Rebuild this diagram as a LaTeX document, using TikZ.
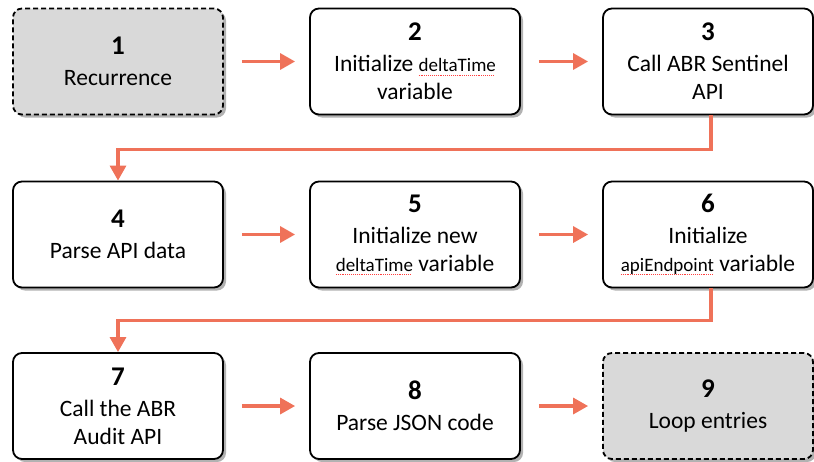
\documentclass[tikz,border=0pt]{standalone}
\usepackage{fontspec}
\setmainfont{Carlito}
\usepackage{tikz}
\usetikzlibrary{arrows.meta, positioning, shadows}
\usepackage{xcolor}
\definecolor{flowred}{HTML}{EF7259}
\definecolor{flowgrey}{HTML}{D9D9D9}

% step number on top of each box
\newcommand{\stepno}[1]{{\fontsize{27}{27}\selectfont\bfseries #1}\\[3pt]}
% red dotted mark under identifiers
\newsavebox{\idbox}
\newcommand{\idmark}[1]{\sbox{\idbox}{\fontsize{19}{22}\selectfont #1}%
  \rlap{\textcolor{red!75}{\leaders\hbox to 1.9pt{\rule[-3.5pt]{1pt}{0.7pt}\hfil}\hskip\wd\idbox}}\usebox{\idbox}}

\begin{document}
\begin{tikzpicture}[
    x=1pt, y=1pt,
    font=\fontsize{23.5}{28}\selectfont,
    stepbox/.style={draw, line width=1.8pt, rounded corners=9pt, fill=white,
      minimum width=210pt, minimum height=106pt, align=center,
      drop shadow={shadow xshift=3pt, shadow yshift=-3pt, opacity=0.3, fill=black}},
    endbox/.style={stepbox, dash pattern=on 5pt off 3pt, fill=flowgrey},
    flow/.style={-{Triangle[length=15pt, width=16pt]}, flowred, line width=3.2pt}]

  \useasboundingbox (0,0) rectangle (814,-461);

  % first row
  \node[endbox] (s1) at (118,-61.5) {\stepno{1}Recurrence};
  \node[stepbox] (s2) at (415,-61.5) {\stepno{2}Initialize \idmark{deltaTime}\\variable};
  \node[stepbox] (s3) at (708,-61.5) {\stepno{3}Call ABR Sentinel\\API};

  % second row
  \node[stepbox] (s4) at (118,-234.5) {\stepno{4}Parse API data};
  \node[stepbox] (s5) at (415,-234.5) {\stepno{5}Initialize new\\\idmark{deltaTime} variable};
  \node[stepbox] (s6) at (708,-234.5) {\stepno{6}Initialize\\\idmark{apiEndpoint} variable};

  % third row
  \node[stepbox] (s7) at (118,-406) {\stepno{7}Call the ABR\\Audit API};
  \node[stepbox] (s8) at (415,-406) {\stepno{8}Parse JSON code};
  \node[endbox] (s9) at (708,-406) {\stepno{9}Loop entries};

  \draw[flow] ([xshift=18pt]s1.east) -- ([xshift=-14pt]s2.west);
  \draw[flow] ([xshift=18pt]s2.east) -- ([xshift=-14pt]s3.west);
  \draw[flow] ([xshift=3pt]s3.south) -- ++(0,-34) -| (s4.north);
  \draw[flow] ([xshift=18pt]s4.east) -- ([xshift=-14pt]s5.west);
  \draw[flow] ([xshift=18pt]s5.east) -- ([xshift=-14pt]s6.west);
  \draw[flow] ([xshift=3pt]s6.south) -- ++(0,-32) -| (s7.north);
  \draw[flow] ([xshift=18pt]s7.east) -- ([xshift=-14pt]s8.west);
  \draw[flow] ([xshift=18pt]s8.east) -- ([xshift=-14pt]s9.west);
\end{tikzpicture}
\end{document}
